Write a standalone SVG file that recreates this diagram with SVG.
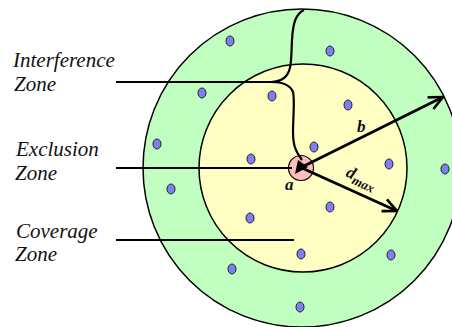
<svg xmlns="http://www.w3.org/2000/svg" width="452" height="327" viewBox="0 0 452 327">
<style>
.lbl{font-family:"Liberation Serif","Times New Roman",serif;font-style:italic;font-size:21px;fill:#111}
.sym{font-family:"Liberation Serif","Times New Roman",serif;font-style:italic;font-weight:bold;font-size:17px;fill:#111}
.dot{fill:#7f7ff5;stroke:#222;stroke-width:1}
.ln{stroke:#000;stroke-width:2.2;fill:none}
.arr{stroke:#000;stroke-width:2.8;fill:none}
</style>
<defs>
<marker id="open" viewBox="0 0 16 16" refX="15" refY="8" markerWidth="16" markerHeight="16" markerUnits="userSpaceOnUse" orient="auto">
<path d="M1,1.5 L15,8 L1,14.5" fill="none" stroke="#000" stroke-width="2.6"/>
</marker>
</defs>
<g id="interference-zone"><circle cx="302" cy="168" r="159" fill="#c0ffc0" stroke="#000" stroke-width="1.5"/></g>
<g id="coverage-zone"><circle cx="303" cy="168" r="104" fill="#ffffc4" stroke="#000" stroke-width="1.5"/></g>
<g id="exclusion-zone"><circle cx="301" cy="168" r="12.5" fill="#ffbcbc" stroke="#000" stroke-width="1.2"/></g>
<g id="nodes">
<ellipse class="dot" cx="230" cy="41" rx="4" ry="5"/>
<ellipse class="dot" cx="330" cy="51" rx="4" ry="5"/>
<ellipse class="dot" cx="202" cy="93" rx="4" ry="5"/>
<ellipse class="dot" cx="157" cy="144" rx="4" ry="5"/>
<ellipse class="dot" cx="272" cy="96" rx="4" ry="5"/>
<ellipse class="dot" cx="348" cy="105" rx="4" ry="5"/>
<ellipse class="dot" cx="314" cy="147" rx="4" ry="5"/>
<ellipse class="dot" cx="251" cy="159" rx="4" ry="5"/>
<ellipse class="dot" cx="389" cy="164" rx="4" ry="5"/>
<ellipse class="dot" cx="445" cy="169" rx="4" ry="5"/>
<ellipse class="dot" cx="171" cy="189" rx="4" ry="5"/>
<ellipse class="dot" cx="330" cy="207" rx="4" ry="5"/>
<ellipse class="dot" cx="250" cy="218" rx="4" ry="5"/>
<ellipse class="dot" cx="301" cy="254" rx="4" ry="5"/>
<ellipse class="dot" cx="391" cy="255" rx="4" ry="5"/>
<ellipse class="dot" cx="232" cy="269" rx="4" ry="5"/>
<ellipse class="dot" cx="300" cy="307" rx="4" ry="5"/>
</g>
<g id="connectors">
<line class="ln" x1="116" y1="82" x2="271" y2="82"/>
<line class="ln" x1="116" y1="168" x2="292" y2="168"/>
<line class="ln" x1="116" y1="240" x2="294" y2="240"/>
<path class="ln" d="M304,10 C296,14 293,22 292,40 C291,60 292,72 284,78 C280,81 276,82 271,82 C280,82 290,84 293,92 C295,100 293,118 293,132 C293,146 296,152 302,160"/>
<line class="arr" x1="302" y1="167" x2="443" y2="97" marker-end="url(#open)"/>
<line class="arr" x1="302" y1="168" x2="397" y2="211" marker-end="url(#open)"/>
<path d="M295,174 L298,160 L308,167 Z" fill="#000"/>
</g>
<g id="labels">
<text class="lbl" x="13" y="67">Interference</text>
<text class="lbl" x="14" y="91">Zone</text>
<text class="lbl" x="16" y="156">Exclusion</text>
<text class="lbl" x="15" y="180">Zone</text>
<text class="lbl" x="16" y="238">Coverage</text>
<text class="lbl" x="15" y="261">Zone</text>
<text class="sym" x="357" y="132">b</text>
<text class="sym" x="285" y="190">a</text>
<text class="sym" transform="translate(345,176) rotate(25)">d<tspan font-size="13" dy="4">max</tspan></text>
</g>
</svg>
